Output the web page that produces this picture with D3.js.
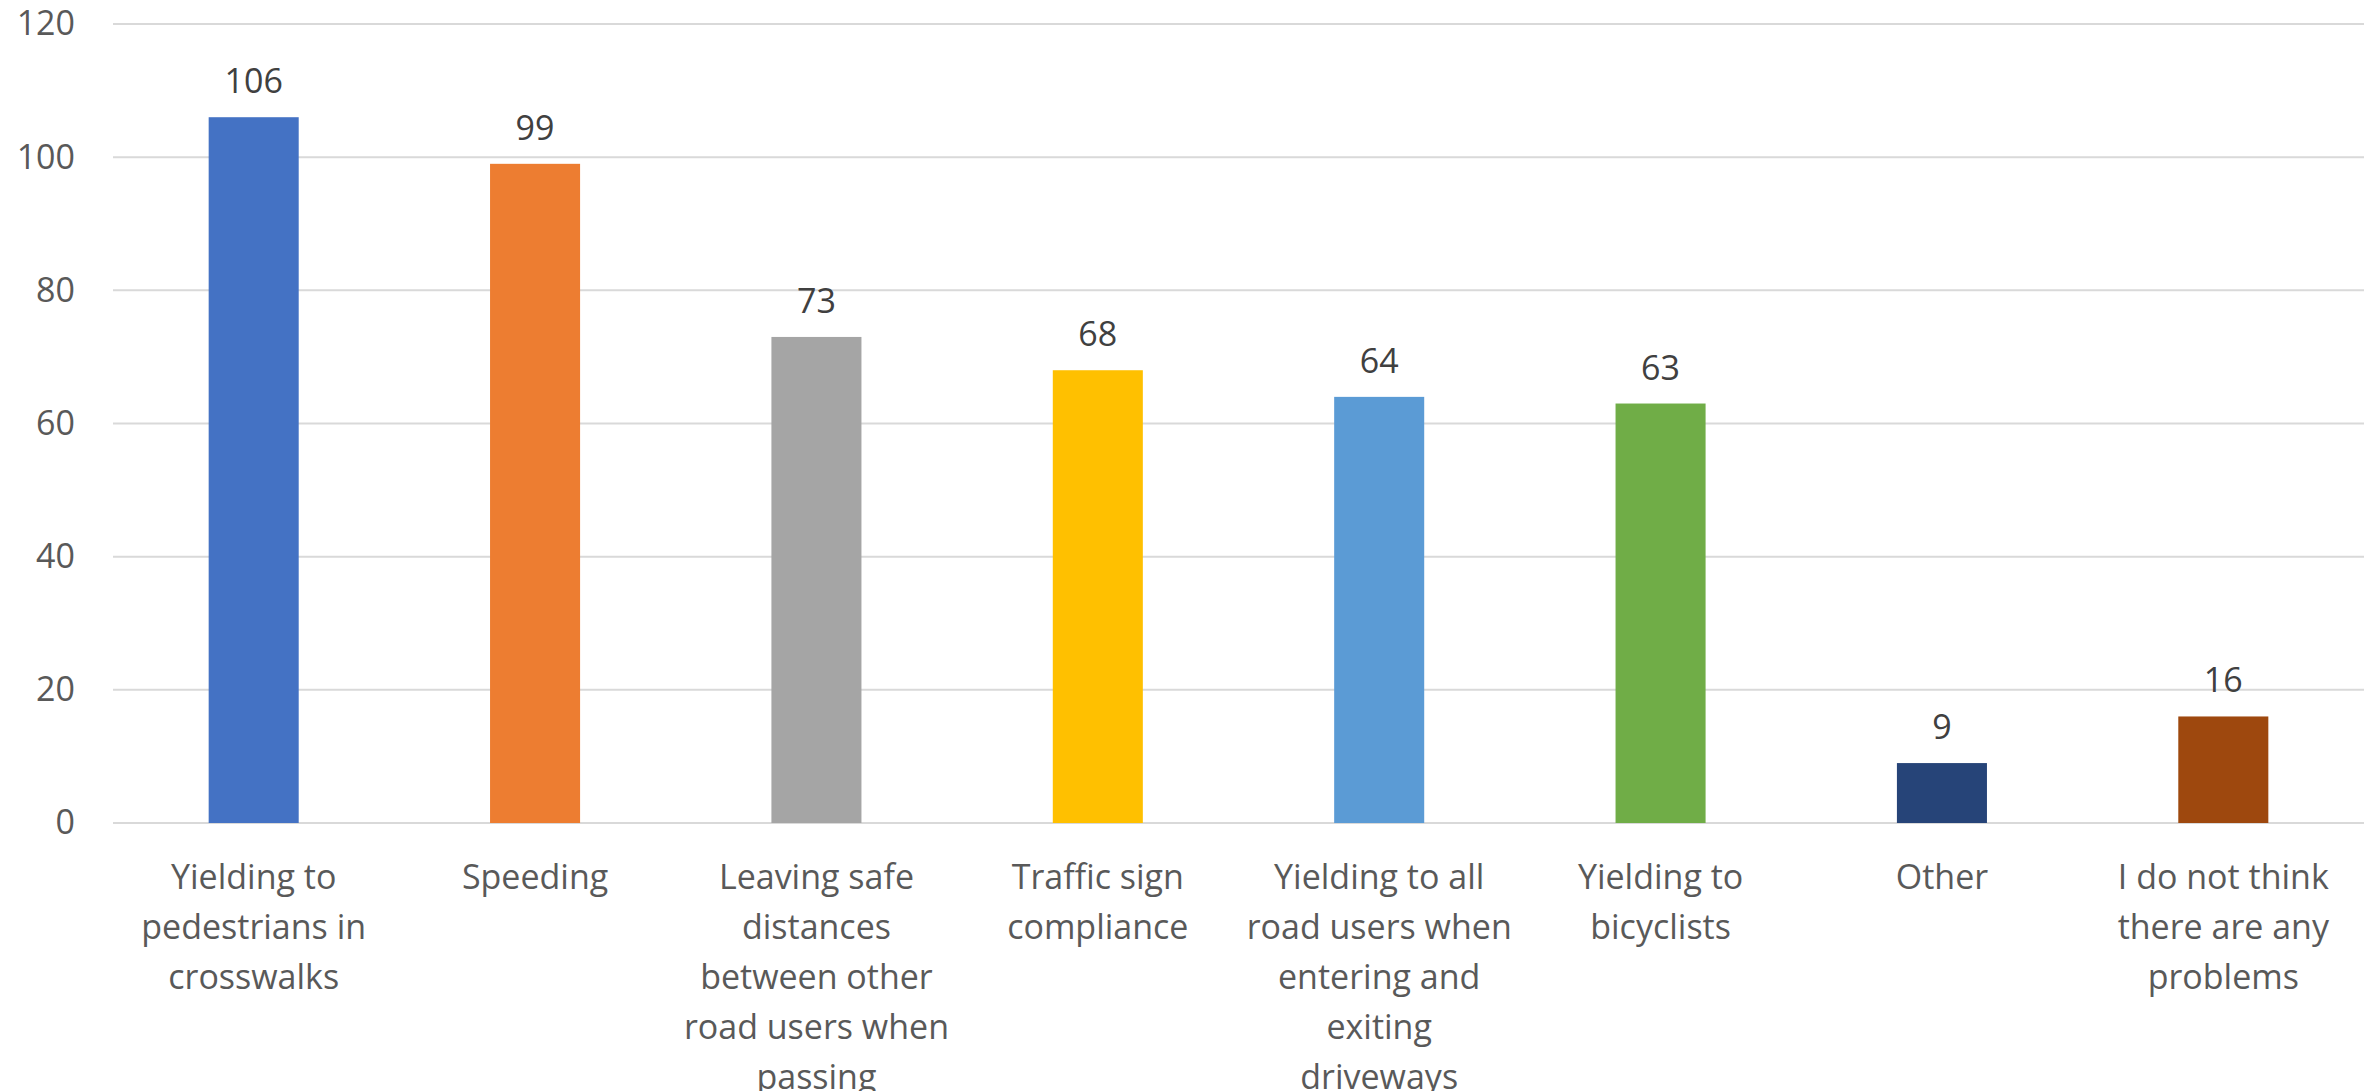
<!DOCTYPE html>
<html>
<head>
<meta charset="utf-8">
<script src="https://cdn.jsdelivr.net/npm/d3@7"></script>
<style>
  body { margin: 0; background: #fff; }
  text { font-family: "Open Sans", "Noto Sans", sans-serif; }
</style>
</head>
<body>
<div id="chart"></div>
<script>
// Data
const categories = [
  ["Yielding to", "pedestrians in", "crosswalks"],
  ["Speeding"],
  ["Leaving safe", "distances", "between other", "road users when", "passing"],
  ["Traffic sign", "compliance"],
  ["Yielding to all", "road users when", "entering and", "exiting", "driveways"],
  ["Yielding to", "bicyclists"],
  ["Other"],
  ["I do not think", "there are any", "problems"]
];
const values = [106, 99, 73, 68, 64, 63, 9, 16];
const barColors = ["#4472C4", "#ED7D31", "#A5A5A5", "#FFC000", "#5B9BD5", "#70AD47", "#264478", "#9E480E"];
const yTicks = [0, 20, 40, 60, 80, 100, 120];

// Dimensions
const totalW = 2374, totalH = 1091;
const margin = { top: 24, right: 10, bottom: 268, left: 113 };
const width = totalW - margin.left - margin.right;
const height = totalH - margin.top - margin.bottom;

const svg = d3.select("#chart")
  .append("svg")
  .attr("width", totalW)
  .attr("height", totalH)
  .append("g")
  .attr("transform", `translate(${margin.left},${margin.top})`);

// Scales
const keys = categories.map((d, i) => i);
const xScale = d3.scaleBand().domain(keys).range([0, width]).paddingInner(0.68).paddingOuter(0.34);
const yScale = d3.scaleLinear().domain([0, 120]).range([height, 0]);

// Gridlines
svg.append("g")
  .selectAll("line")
  .data(yTicks)
  .join("line")
  .attr("x1", 0)
  .attr("x2", width)
  .attr("y1", d => yScale(d))
  .attr("y2", d => yScale(d))
  .attr("stroke", "#d9d9d9")
  .attr("stroke-width", 2);

// Y axis labels
const yAxis = svg.append("g")
  .attr("transform", "translate(-38,0)")
  .call(d3.axisLeft(yScale).tickValues(yTicks).tickSize(0).tickPadding(0));
yAxis.select(".domain").remove();
yAxis.selectAll("text")
  .attr("fill", "#595959")
  .attr("font-size", 34)
  .style("font-family", "'Open Sans', sans-serif");

// Bars
svg.selectAll(".bar")
  .data(values)
  .join("rect")
  .attr("class", "bar")
  .attr("x", (d, i) => xScale(i))
  .attr("y", d => yScale(d))
  .attr("width", xScale.bandwidth())
  .attr("height", d => height - yScale(d))
  .attr("fill", (d, i) => barColors[i]);

// Value labels
svg.selectAll(".val")
  .data(values)
  .join("text")
  .attr("class", "val")
  .attr("x", (d, i) => xScale(i) + xScale.bandwidth() / 2)
  .attr("y", d => yScale(d) - 24)
  .attr("text-anchor", "middle")
  .attr("fill", "#404040")
  .attr("font-size", 34)
  .text(d => d);

// Category labels
const catG = svg.selectAll(".cat")
  .data(categories)
  .join("text")
  .attr("class", "cat")
  .attr("text-anchor", "middle")
  .attr("fill", "#595959")
  .attr("font-size", 34)
  .attr("transform", (d, i) => `translate(${xScale(i) + xScale.bandwidth() / 2},${height + 66})`);

catG.selectAll("tspan")
  .data(d => d)
  .join("tspan")
  .attr("x", 0)
  .attr("y", (d, j) => j * 50)
  .text(d => d);
</script>
</body>
</html>
